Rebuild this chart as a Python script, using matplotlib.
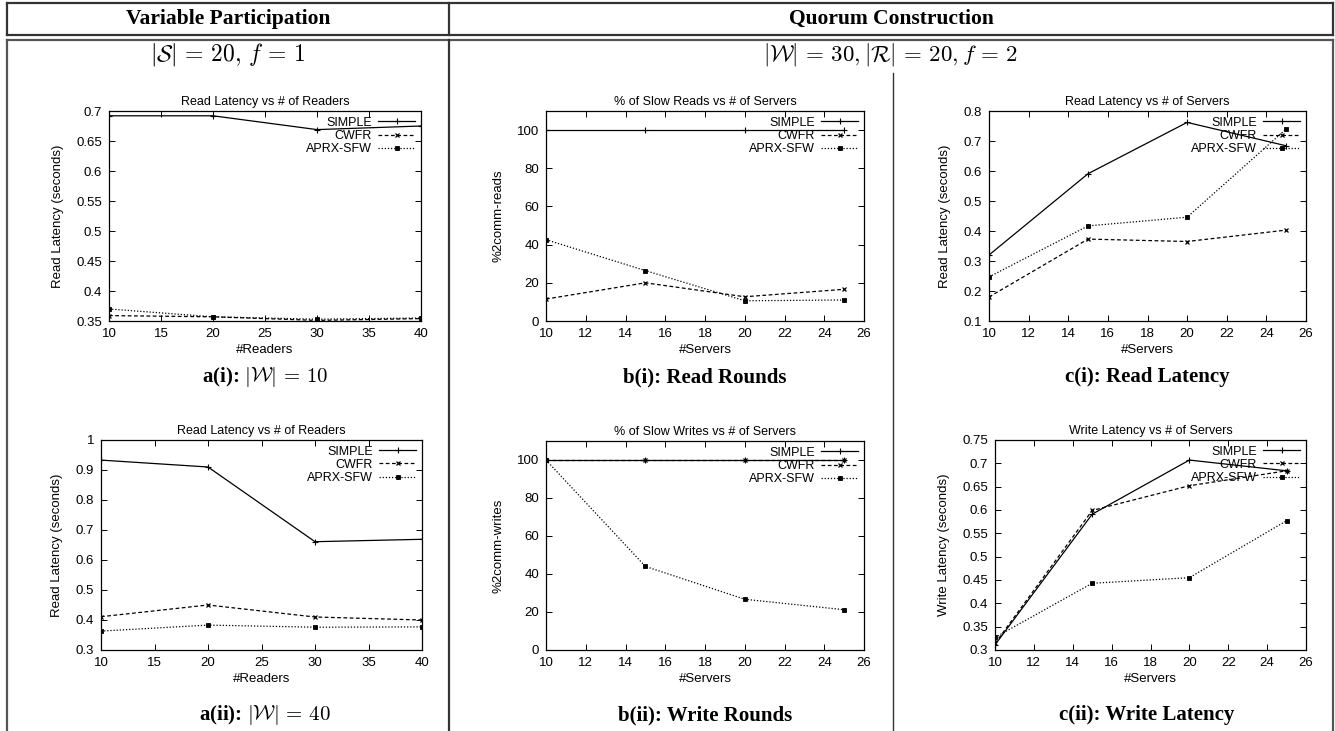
import numpy as np
import matplotlib
matplotlib.use('Agg')
import matplotlib.pyplot as plt
from matplotlib.lines import Line2D
from matplotlib.ticker import FuncFormatter

plt.rcParams['font.family'] = 'Liberation Sans'
plt.rcParams['mathtext.fontset'] = 'cm'

W, H = 1335, 731

# ---- data ----
readers = [10, 20, 30, 40]
servers = [10, 15, 20, 25]
series_names = ['SIMPLE', 'CWFR', 'APRX-SFW']

a1_simple = [0.692, 0.692, 0.669, 0.675]
a1_cwfr = [0.359, 0.357, 0.351, 0.354]
a1_aprx = [0.370, 0.357, 0.353, 0.355]

a2_simple = [0.933, 0.910, 0.661, 0.669]
a2_cwfr = [0.411, 0.450, 0.410, 0.400]
a2_aprx = [0.363, 0.383, 0.376, 0.377]

b1_simple = [100, 100, 100, 100]
b1_cwfr = [11.5, 20.0, 12.7, 16.6]
b1_aprx = [42.6, 26.4, 10.6, 11.0]

b2_simple = [100, 100, 100, 100]
b2_cwfr = [100, 100, 100, 100]
b2_aprx = [100, 44.0, 26.7, 21.2]

c1_simple = [0.320, 0.591, 0.762, 0.684]
c1_cwfr = [0.180, 0.373, 0.365, 0.403]
c1_aprx = [0.247, 0.417, 0.446, 0.740]

c2_simple = [0.311, 0.591, 0.707, 0.684]
c2_cwfr = [0.314, 0.599, 0.652, 0.684]
c2_aprx = [0.327, 0.443, 0.455, 0.577]

fig = plt.figure(figsize=(W / 100, H / 100), dpi=100)


def px_axes(left, top, right, bottom):
    return fig.add_axes([left / W, 1 - bottom / H, (right - left) / W, (bottom - top) / H])


def fig_line(x0, y0, x1, y1, lw=1.6, color='#333333'):
    fig.add_artist(Line2D([x0 / W, x1 / W], [1 - y0 / H, 1 - y1 / H], lw=lw, color=color))


def fig_text(x, y, s, **kw):
    fig.text(x / W, 1 - y / H, s, ha='center', va='center', **kw)


fmt = FuncFormatter(lambda v, p: '%g' % round(v, 3))
styles = [dict(ls='-', marker='+', ms=4, mew=0.8),
          dict(ls=(0, (3, 2)), marker='x', ms=3, mew=0.9),
          dict(ls=(0, (1, 1.5)), marker='s', ms=2.5, mew=0.6)]


def panel(box, x, ys, title, xlabel, ylabel, xlim, ylim, xticks, yticks):
    ax = px_axes(*box)
    for y, name, st in zip(ys, series_names, styles):
        ax.plot(x, y, color='black', lw=0.9, label=name, **st)
    ax.set_xlim(*xlim)
    ax.set_ylim(*ylim)
    ax.set_xticks(xticks)
    ax.set_yticks(yticks)
    ax.xaxis.set_major_formatter(fmt)
    ax.yaxis.set_major_formatter(fmt)
    ax.tick_params(direction='in', top=True, right=True, labelsize=9.5, length=4, width=0.7, pad=5)
    for sp in ax.spines.values():
        sp.set_linewidth(0.9)
    ax.set_title(title, fontsize=9, pad=4)
    ax.set_xlabel(xlabel, fontsize=9.5, labelpad=3)
    ax.set_ylabel(ylabel, fontsize=9.5, labelpad=9)
    ax.legend(loc='upper right', frameon=False, markerfirst=False, fontsize=9,
              handlelength=3.0, handletextpad=0.5, labelspacing=0.1,
              borderaxespad=0.15, borderpad=0.3, numpoints=1)
    return ax


# top row
panel((109, 111, 421, 321), readers, [a1_simple, a1_cwfr, a1_aprx],
      'Read Latency vs # of Readers', '#Readers', 'Read Latency (seconds)',
      (10, 40), (0.35, 0.7), np.arange(10, 41, 5), np.arange(0.35, 0.701, 0.05))
panel((546, 111, 864, 321), servers, [b1_simple, b1_cwfr, b1_aprx],
      '% of Slow Reads vs # of Servers', '#Servers', '%2comm-reads',
      (10, 26), (0, 110), np.arange(10, 27, 2), np.arange(0, 101, 20))
panel((989, 111, 1306, 321), servers, [c1_simple, c1_cwfr, c1_aprx],
      'Read Latency vs # of Servers', '#Servers', 'Read Latency (seconds)',
      (10, 26), (0.1, 0.8), np.arange(10, 27, 2), np.arange(0.1, 0.801, 0.1))

# bottom row
panel((101, 440, 422, 650), readers, [a2_simple, a2_cwfr, a2_aprx],
      'Read Latency vs # of Readers', '#Readers', 'Read Latency (seconds)',
      (10, 40), (0.3, 1.0), np.arange(10, 41, 5), np.arange(0.3, 1.001, 0.1))
panel((546, 441, 864, 650), servers, [b2_simple, b2_cwfr, b2_aprx],
      '% of Slow Writes vs # of Servers', '#Servers', '%2comm-writes',
      (10, 26), (0, 110), np.arange(10, 27, 2), np.arange(0, 101, 20))
panel((995, 440, 1306, 650), servers, [c2_simple, c2_cwfr, c2_aprx],
      'Write Latency vs # of Servers', '#Servers', 'Write Latency (seconds)',
      (10, 26), (0.3, 0.75), np.arange(10, 27, 2), np.arange(0.3, 0.751, 0.05))

# table frame
fig_line(7, 3, 1333, 3)
fig_line(7, 35, 1333, 35)
fig_line(7, 40, 1333, 40, color='#555555')
fig_line(7, 3, 7, 35)
fig_line(1333, 3, 1333, 35)
fig_line(7, 40, 7, 731, color='#555555')
fig_line(1333, 40, 1333, 731, color='#555555')
fig_line(449, 3, 449, 35)
fig_line(449, 40, 449, 731)
fig_line(893, 73, 893, 731, lw=1.0)

serif = 'Liberation Serif'
fig_text(228, 19, 'Variable Participation', fontsize=15.5, fontweight='bold', family=serif)
fig_text(891, 19, 'Quorum Construction', fontsize=15.5, fontweight='bold', family=serif)
fig_text(228, 55, r'$|\mathcal{S}|\,=\,20,\,f\,=\,1$', fontsize=17)
fig_text(891, 55, r'$|\mathcal{W}|\,=\,30, |\mathcal{R}|\,=\,20, f\,=\,2$', fontsize=16.5)

cap = dict(fontsize=15, fontweight='bold', family=serif)
fig_text(265, 377, r'a(i): $|\mathcal{W}|\,=\,10$', **cap)
fig_text(705, 377, 'b(i): Read Rounds', **cap)
fig_text(1147, 377, 'c(i): Read Latency', **cap)
fig_text(265, 715, r'a(ii): $|\mathcal{W}|\,=\,40$', **cap)
fig_text(705, 715, 'b(ii): Write Rounds', **cap)
fig_text(1147, 715, 'c(ii): Write Latency', **cap)

fig.savefig('out.png', dpi=100)
